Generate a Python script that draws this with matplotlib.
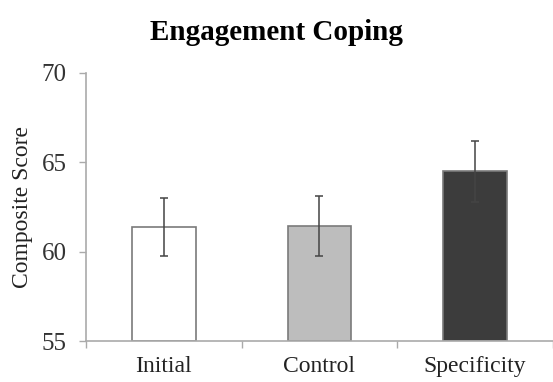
import matplotlib
matplotlib.use('Agg')
import matplotlib.pyplot as plt
import numpy as np

## data
groups = ['Initial', 'Control', 'Specificity']
means = [61.4, 61.43, 64.5]
errs = [1.62, 1.68, 1.7]
colors = ['#ffffff', '#bdbdbd', '#3c3c3c']

plt.rcParams['font.family'] = ['Liberation Serif', 'DejaVu Serif']

fig = plt.figure(figsize=(5.53, 3.82), dpi=100)
ax = fig.add_axes([0.1555, 0.1073, 0.8445, 0.7017])

x = np.arange(len(groups)) + 0.5
ax.bar(x, np.array(means) - 55, bottom=55, width=0.41, color=colors,
       edgecolor='#7a7a7a', linewidth=1.2, zorder=2)
ax.errorbar(x, means, yerr=errs, fmt='none', ecolor='#444444',
            elinewidth=1.1, capsize=3, capthick=1.1, zorder=3)

ax.set_xlim(0, 3)
ax.set_ylim(55, 70)
ax.set_yticks([55, 60, 65, 70])
ax.set_xticks([0, 1, 2, 3])
ax.set_xticklabels([])
ax.set_xticks(x, minor=True)
ax.set_xticklabels(groups, minor=True)
ax.tick_params(axis='x', which='minor', length=0, pad=11, labelsize=17,
               labelcolor='#222222')
ax.tick_params(axis='x', which='major', length=5, color='#aaaaaa', width=1)
ax.tick_params(axis='y', length=5, color='#aaaaaa', width=1, labelsize=18,
               pad=9, labelcolor='#333333')

for s in ['top', 'right']:
    ax.spines[s].set_visible(False)
for s in ['left', 'bottom']:
    ax.spines[s].set_color('#aaaaaa')
    ax.spines[s].set_linewidth(1.2)

ax.set_ylabel('Composite Score', fontsize=17, labelpad=6, color='#222222')
fig.text(0.5, 0.915, 'Engagement Coping', ha='center', va='center',
         fontsize=21, fontweight='bold')

plt.savefig('out.png', dpi=100)
